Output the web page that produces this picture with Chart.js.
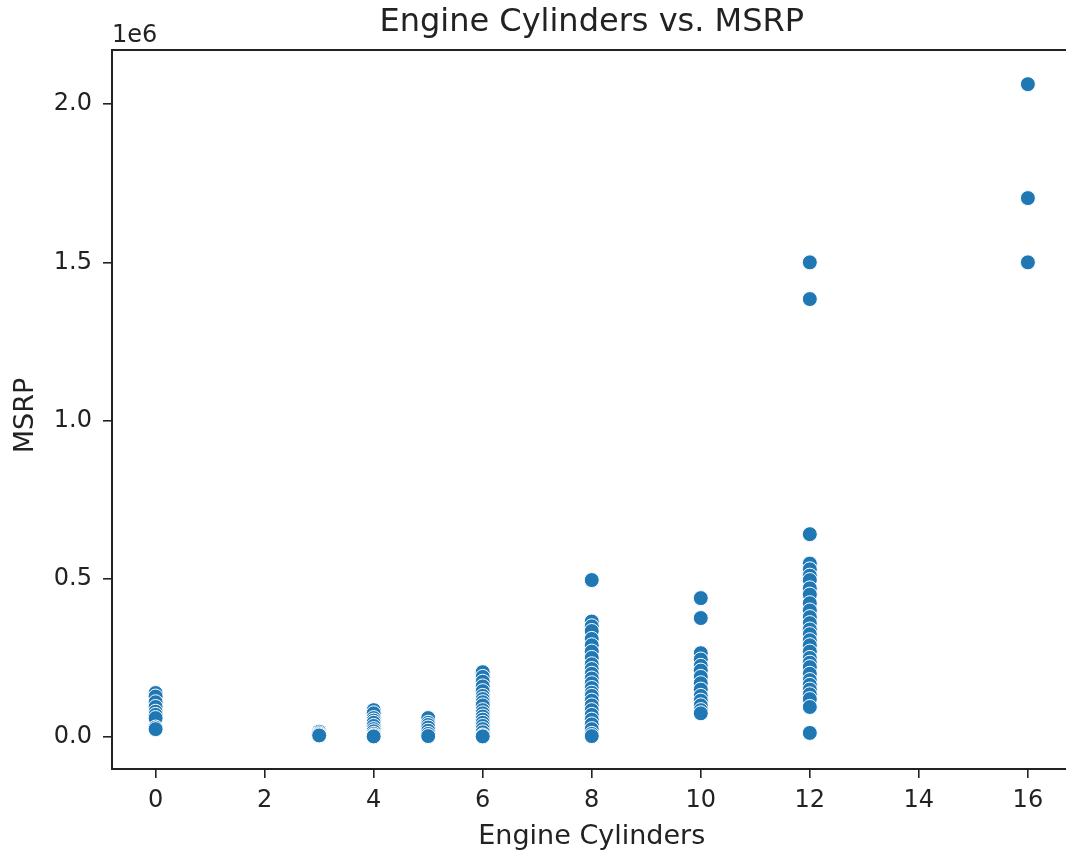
<!DOCTYPE html>
<html>
<head>
<meta charset="utf-8">
<script src="https://cdn.jsdelivr.net/npm/chart.js@4.4.1/dist/chart.umd.min.js"></script>
<style>
  html, body { margin: 0; padding: 0; background: #fff; overflow: hidden; }
  #wrap { position: absolute; left: 0; top: 0; width: 1080px; height: 852px; }
</style>
</head>
<body>
<div id="wrap"><canvas id="chartCanvas" width="1080" height="852"></canvas></div>
<script>
const cylinders = [0, 3, 4, 5, 6, 8, 10, 12, 16];

const msrp0 = [139000, 128000, 110000, 95000, 80000, 70000, 60000, 30000, 25000];
const msrp3 = [17000, 12000, 8000, 5000];
const msrp4 = [85000, 75000, 60000, 52000, 45000, 35000, 25000, 18000, 10000, 5000, 2000];
const msrp5 = [60000, 45000, 38000, 30000, 20000, 10000, 3000];
const msrp6 = [205000, 190000, 175000, 160000, 145000, 130000, 120000, 110000, 100000,
  85000, 75000, 65000, 55000, 45000, 35000, 25000, 15000, 5000, 2000];
const msrp8 = [496000, 365000, 350000, 335000, 310000, 290000, 270000, 250000, 230000,
  215000, 200000, 185000, 170000, 155000, 140000, 130000, 115000, 100000, 85000, 70000,
  55000, 40000, 25000, 10000, 3000];
const msrp10 = [439000, 376000, 265000, 245000, 225000, 210000, 190000, 170000, 150000,
  130000, 115000, 100000, 85000, 75000];
const msrp12 = [1500000, 1384000, 641000, 548000, 530000, 510000, 496000, 470000, 450000,
  423000, 400000, 379000, 360000, 340000, 325000, 306000, 290000, 270000, 250000, 235000,
  221000, 200000, 180000, 165000, 150000, 135000, 120000, 95000, 13000];
const msrp16 = [2063000, 1703000, 1500000];

const msrpByCylinders = [msrp0, msrp3, msrp4, msrp5, msrp6, msrp8, msrp10, msrp12, msrp16];

const xTicks = [0, 2, 4, 6, 8, 10, 12, 14, 16];
const yTicks = [0, 500000, 1000000, 1500000, 2000000];

const points = cylinders.flatMap((c, i) => msrpByCylinders[i].map(v => ({ x: c, y: v })));

const FONT = "'DejaVu Sans', sans-serif";
const INK = '#222';

// title, offset text, axis labels and the box around the plot
const decorations = {
  id: 'decorations',
  afterDraw(chart) {
    const { ctx, chartArea: a } = chart;
    ctx.save();
    ctx.strokeStyle = INK;
    ctx.lineWidth = 2;
    ctx.strokeRect(a.left, a.top, a.right - a.left, a.bottom - a.top);

    ctx.fillStyle = INK;
    ctx.textAlign = 'center';
    ctx.textBaseline = 'middle';
    ctx.font = '32px ' + FONT;
    ctx.fillText('Engine Cylinders vs. MSRP', (a.left + a.right) / 2, 23);

    ctx.font = '27px ' + FONT;
    ctx.fillText('Engine Cylinders', (a.left + a.right) / 2, 837);

    ctx.font = '24px ' + FONT;
    ctx.textAlign = 'left';
    ctx.textBaseline = 'alphabetic';
    ctx.fillText('1e6', a.left, 42);

    ctx.font = '27px ' + FONT;
    ctx.translate(26, (a.top + a.bottom) / 2 + 6);
    ctx.rotate(-Math.PI / 2);
    ctx.textAlign = 'center';
    ctx.textBaseline = 'middle';
    ctx.fillText('MSRP', 0, 0);
    ctx.restore();
  }
};

new Chart(document.getElementById('chartCanvas').getContext('2d'), {
  type: 'scatter',
  data: {
    datasets: [{
      data: points,
      backgroundColor: '#1f77b4',
      borderColor: '#ffffff',
      borderWidth: 1,
      pointRadius: 7.5,
      pointHoverRadius: 7.5
    }]
  },
  options: {
    responsive: false,
    animation: false,
    devicePixelRatio: 1,
    layout: { padding: { top: 50, right: 3, left: 0, bottom: 0 } },
    plugins: { legend: { display: false }, tooltip: { enabled: false } },
    scales: {
      x: {
        type: 'linear',
        min: -0.8,
        max: 16.8,
        afterFit(scale) { scale.height = 83; },
        afterBuildTicks(scale) { scale.ticks = xTicks.map(v => ({ value: v })); },
        border: { display: false },
        grid: { drawOnChartArea: false, drawTicks: true, tickLength: 9, color: INK, lineWidth: 1.6 },
        ticks: {
          color: INK,
          font: { family: FONT, size: 24 },
          padding: 8,
          maxRotation: 0,
          callback: v => String(v)
        }
      },
      y: {
        type: 'linear',
        min: -101000,
        max: 2171000,
        afterFit(scale) { scale.width = 112; },
        afterBuildTicks(scale) { scale.ticks = yTicks.map(v => ({ value: v })); },
        border: { display: false },
        grid: { drawOnChartArea: false, drawTicks: true, tickLength: 9, color: INK, lineWidth: 1.6 },
        ticks: {
          color: INK,
          font: { family: FONT, size: 24 },
          padding: 11,
          callback: v => (v / 1e6).toFixed(1)
        }
      }
    }
  },
  plugins: [decorations]
});
</script>
</body>
</html>
